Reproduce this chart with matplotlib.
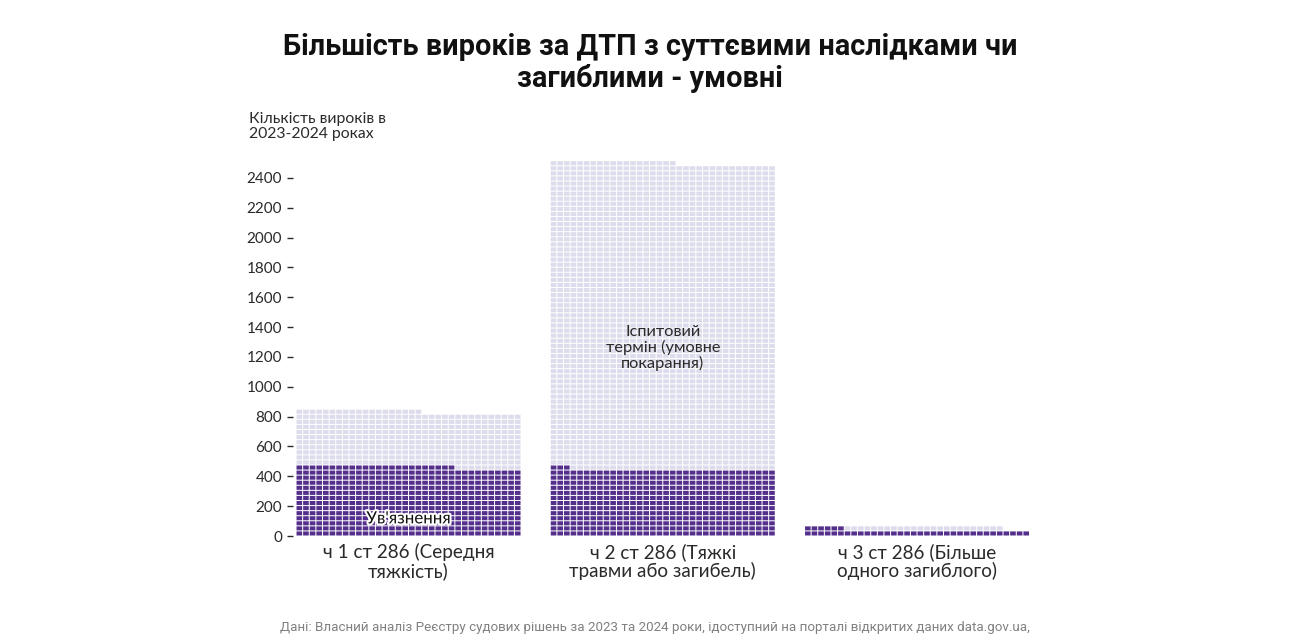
import matplotlib.pyplot as plt
import matplotlib.patheffects as pe
import numpy as np

# data (counts of verdicts, 2023-2024)
categories = ["ч 1 ст 286 (Середня\nтяжкість)",
              "ч 2 ст 286 (Тяжкі\nтравми або загибель)",
              "ч 3 ст 286 (Більше\nодного загиблого)"]
prison = [466, 445, 40]          # Ув'язнення
probation = [369, 2056, 24]      # Іспитовий термін
yticks = list(range(0, 2401, 200))

title = "Більшість вироків за ДТП з суттєвими наслідками чи\nзагиблими - умовні"
ylabel = "Кількість вироків в\n2023-2024 роках"
source = ("Дані: Власний аналіз Реєстру судових рішень за 2023 та 2024 роки, "
          "ідоступний на порталі відкритих даних data.gov.ua,")

dark = "#54308c"
light = "#dcdcec"
txt = "#2a2a2a"
per_row = 34          # cells per row, one verdict per cell
band = 0.885          # band width in category units

W, H = 1295, 641
px_x = 254.25         # pixels per category step
px_y = 0.14917        # pixels per verdict

fig = plt.figure(figsize=(W / 100, H / 100), dpi=100)
ax = fig.add_axes([281.4 / W, 105 / H, 762.75 / W, 2600 * px_y / H])
ax.set_xlim(-0.5, 2.5)
ax.set_ylim(0, 2600)

cw = band / per_row
gx = 1.0 / px_x
gy = 1.0 / px_y


def waffle(i, start, end, color):
    idx = np.arange(start, end)
    col = idx % per_row
    row = idx // per_row
    x = i - band / 2 + col * cw
    ax.bar(x + gx / 2, per_row - gy, width=cw - gx, bottom=row * per_row + gy / 2,
           align="edge", color=color, linewidth=0, snap=False)


for i in range(len(categories)):
    waffle(i, 0, prison[i], dark)
    waffle(i, prison[i], prison[i] + probation[i], light)

for s in ax.spines.values():
    s.set_visible(False)
ax.spines["left"].set_position(("data", (293 - 408.5) / px_x))

ax.set_yticks(yticks)
ax.tick_params(axis="y", length=4.5, width=1, color=txt, pad=3.5,
               labelsize=11, labelcolor=txt)
for t in ax.get_yticklabels():
    t.set_fontfamily("Lato")

ax.set_xticks(range(len(categories)))
ax.set_xticklabels(categories, fontsize=13.6, family="Lato",
                   color=txt, linespacing=1.1)
ax.tick_params(axis="x", length=0, pad=5)

ax.text(1, 1260, "Іспитовий\nтермін (умовне\nпокарання)", ha="center", va="center",
        fontsize=11.8, family="Lato", color=txt, linespacing=1.05)
ax.text(0, 118, "Ув'язнення", ha="center", va="center", fontsize=12.2,
        family="Lato", color="#111111",
        path_effects=[pe.withStroke(linewidth=3, foreground="white")])

fig.text(650 / W, 1 - 33 / H, title, ha="center", va="top", fontsize=20.8,
         family="Roboto", fontweight="bold", color="#111111", linespacing=1.15)
fig.text(249 / W, 1 - 112 / H, ylabel, ha="left", va="top", fontsize=11.3,
         family="Lato", color=txt, linespacing=1.05)
fig.text(655 / W, 1 - 628 / H, source, ha="center", va="center", fontsize=9.6,
         family="Roboto", color="#808080")

fig.savefig("out.png", dpi=100)
